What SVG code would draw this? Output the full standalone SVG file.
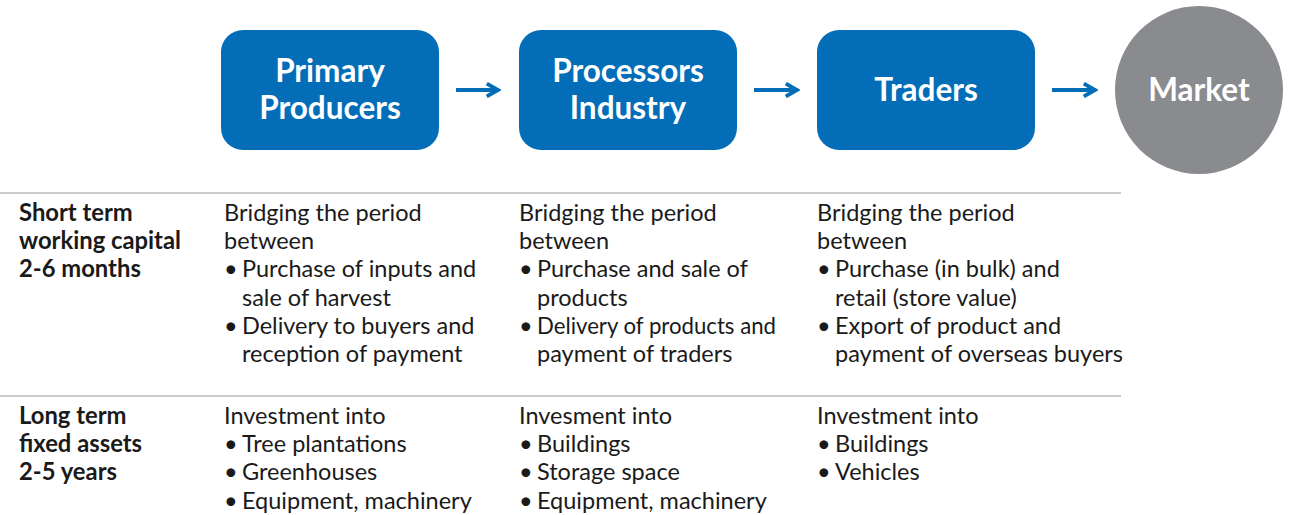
<svg xmlns="http://www.w3.org/2000/svg" width="1290" height="515" viewBox="0 0 1290 515">
<style>
.box{fill:#036eb7}
.title{font-family:Lato,"Liberation Sans",sans-serif;font-weight:bold;font-size:31.5px;fill:#fff;text-anchor:middle}
.t{font-family:Lato,"Liberation Sans",sans-serif;font-size:23.5px;fill:#1a1a1a}
.b{font-weight:bold;font-size:23.8px}
.rule{stroke:#9a9a9a;stroke-width:1.2}
.arr{stroke:#036eb7;stroke-width:4;fill:none}
</style>
<defs>
<marker id="ah" viewBox="0 0 10 10" refX="8" refY="5" markerWidth="4" markerHeight="4" orient="auto" markerUnits="strokeWidth">
<path d="M1,1 L8,5 L1,9" fill="none" stroke="#036eb7" stroke-width="2.4"/>
</marker>
</defs>
<g id="node-primary"><rect class="box" x="221" y="30" width="218" height="120" rx="22"/><text class="title" x="330" y="82">Primary</text><text class="title" x="330" y="119">Producers</text></g>
<g id="node-processors"><rect class="box" x="519" y="30" width="218" height="120" rx="22"/><text class="title" x="628" y="82">Processors</text><text class="title" x="628" y="119">Industry</text></g>
<g id="node-traders"><rect class="box" x="817" y="30" width="218" height="120" rx="22"/><text class="title" x="926" y="101">Traders</text></g>
<g id="node-market"><circle cx="1199" cy="90" r="84" fill="#8a8b8e"/><text class="title" x="1199" y="101">Market</text></g>
<g id="connectors">
<line class="arr" x1="456" y1="90" x2="498" y2="90" marker-end="url(#ah)"/>
<line class="arr" x1="754" y1="90" x2="797" y2="90" marker-end="url(#ah)"/>
<line class="arr" x1="1052" y1="90" x2="1095" y2="90" marker-end="url(#ah)"/>
</g>
<g id="table">
<line class="rule" x1="0" y1="193" x2="1121" y2="193"/>
<line class="rule" x1="0" y1="396" x2="1121" y2="396"/>
<g class="t">
<text class="b" x="19" y="221">Short term</text>
<text class="b" x="19" y="249">working capital</text>
<text class="b" x="19" y="277">2-6 months</text>
<text x="224" y="221">Bridging the period</text>
<text x="224" y="249">between</text>
<text x="224" y="277">•</text><text x="242" y="277">Purchase of inputs and</text>
<text x="242" y="306">sale of harvest</text>
<text x="224" y="334">•</text><text x="242" y="334">Delivery to buyers and</text>
<text x="242" y="362">reception of payment</text>
<text x="519" y="221">Bridging the period</text>
<text x="519" y="249">between</text>
<text x="519" y="277">•</text><text x="537" y="277">Purchase and sale of</text>
<text x="537" y="306">products</text>
<text x="519" y="334">•</text><text x="537" y="334" textLength="239" lengthAdjust="spacingAndGlyphs">Delivery of products and</text>
<text x="537" y="362">payment of traders</text>
<text x="817" y="221">Bridging the period</text>
<text x="817" y="249">between</text>
<text x="817" y="277">•</text><text x="835" y="277">Purchase (in bulk) and</text>
<text x="835" y="306">retail (store value)</text>
<text x="817" y="334">•</text><text x="835" y="334">Export of product and</text>
<text x="835" y="362">payment of overseas buyers</text>
<text class="b" x="19" y="424">Long term</text>
<text class="b" x="19" y="452">fixed assets</text>
<text class="b" x="19" y="480">2-5 years</text>
<text x="224" y="424">Investment into</text>
<text x="224" y="452">•</text><text x="242" y="452">Tree plantations</text>
<text x="224" y="480">•</text><text x="242" y="480">Greenhouses</text>
<text x="224" y="509">•</text><text x="242" y="509">Equipment, machinery</text>
<text x="519" y="424">Invesment into</text>
<text x="519" y="452">•</text><text x="537" y="452">Buildings</text>
<text x="519" y="480">•</text><text x="537" y="480">Storage space</text>
<text x="519" y="509">•</text><text x="537" y="509">Equipment, machinery</text>
<text x="817" y="424">Investment into</text>
<text x="817" y="452">•</text><text x="835" y="452">Buildings</text>
<text x="817" y="480">•</text><text x="835" y="480">Vehicles</text>
</g>
</g>
</svg>
